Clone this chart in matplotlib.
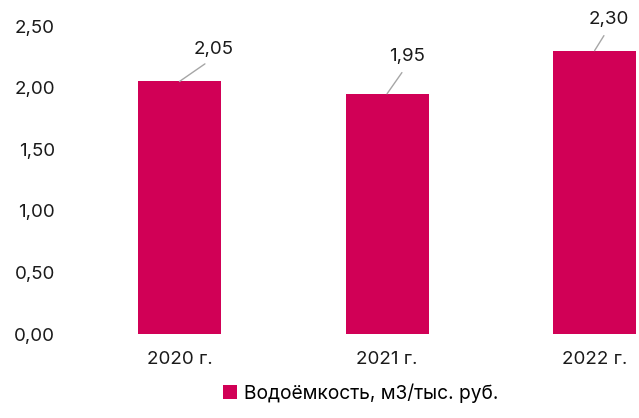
import matplotlib
matplotlib.use('Agg')
import matplotlib.pyplot as plt
from matplotlib.ticker import FuncFormatter

# data
years = ['2020 г.', '2021 г.', '2022 г.']
values = [2.05, 1.95, 2.30]
series_name = 'Водоёмкость, м3/тыс. руб.'
label_offsets = [(34, 32), (20, 37), (14, 31)]  # pixels, label relative to bar top

BAR_COLOR = '#D10056'
LINE_COLOR = '#A6A6A6'

plt.rcParams['font.family'] = ['Inter', 'DejaVu Sans']

fig = plt.figure(figsize=(6.39, 4.18), dpi=100)
ax = fig.add_axes([75.75 / 639, 84 / 418, (639 - 75.75) / 639, 308 / 418])

x = range(len(years))
ax.bar(x, values, width=0.4, color=BAR_COLOR, label=series_name)

ax.set_xlim(-0.5, 2.214)
ax.set_ylim(0, 2.5)
ax.set_yticks([0, 0.5, 1.0, 1.5, 2.0, 2.5])
ax.yaxis.set_major_formatter(FuncFormatter(lambda v, p: f'{v:.2f}'.replace('.', ',')))
ax.set_xticks(list(x))
ax.set_xticklabels(years)
ax.tick_params(axis='both', length=0, labelsize=13.5, colors='#1a1a1a')
ax.tick_params(axis='y', pad=15)
ax.tick_params(axis='x', pad=12)
for s in ax.spines.values():
    s.set_visible(False)

for i, v in enumerate(values):
    dx, dy = label_offsets[i]
    ax.annotate(f'{v:.2f}'.replace('.', ','), xy=(i, v), xytext=(dx, dy),
                textcoords='offset pixels', ha='center', va='center',
                fontsize=13.5, color='#1a1a1a', annotation_clip=False,
                arrowprops=dict(arrowstyle='-', color=LINE_COLOR, lw=1,
                                relpos=(0.5, 0), shrinkA=4, shrinkB=0))

fig.legend(loc='lower center', bbox_to_anchor=(0.565, -0.005), frameon=False,
           fontsize=13.8, handlelength=0.7, handleheight=0.7, handletextpad=0.4)

fig.savefig('out.png', dpi=100)
